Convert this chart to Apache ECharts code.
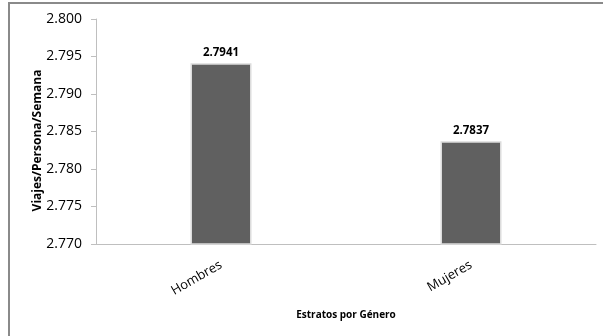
<!DOCTYPE html>
<html>
<head>
<meta charset="utf-8">
<script src="https://cdn.jsdelivr.net/npm/echarts@6/dist/echarts.min.js"></script>
<style>
  html, body { margin: 0; padding: 0; background: #fff; }
  #chart { width: 603px; height: 336px; }
</style>
</head>
<body>
<div id="chart"></div>
<script>
// Trips per person per week, by gender
const categories = ['Hombres', 'Mujeres'];
const viajes = [2.7941, 2.7837];
const yMin = 2.770;
const yMax = 2.800;
const yStep = 0.005;

const font = '"Open Sans", "Noto Sans", sans-serif';
const chart = echarts.init(document.getElementById('chart'), null, { renderer: 'canvas' });

chart.setOption({
  animation: false,
  backgroundColor: '#ffffff',
  grid: { left: 96, right: 7, top: 19, bottom: 92, containLabel: false },
  graphic: [{
    type: 'rect',
    shape: { x: 9, y: 3, width: 800, height: 600 },
    style: { fill: 'none', stroke: '#8a8a8a', lineWidth: 2 },
    silent: true
  }],
  xAxis: {
    type: 'category',
    data: categories,
    name: 'Estratos por Género',
    nameLocation: 'middle',
    nameGap: 66,
    nameMoveOverlap: false,
    nameTextStyle: { fontFamily: font, fontSize: 10, fontWeight: 'bold', color: '#000' },
    axisLine: { lineStyle: { color: '#bfbfbf', width: 1 } },
    axisTick: { show: false },
    axisLabel: { rotate: 30, margin: 20, fontFamily: font, fontSize: 13, color: '#000' }
  },
  yAxis: {
    type: 'value',
    min: yMin,
    max: yMax,
    interval: yStep,
    name: 'Viajes/Persona/Semana',
    nameLocation: 'middle',
    nameGap: 52,
    nameMoveOverlap: false,
    nameTextStyle: {
      fontFamily: font, fontSize: 12, fontWeight: 'bold', color: '#000',
      padding: [0, 18, 0, 0]
    },
    axisLine: { show: true, lineStyle: { color: '#bfbfbf', width: 1 } },
    axisTick: { show: true, length: 5, lineStyle: { color: '#bfbfbf' } },
    splitLine: { show: false },
    axisLabel: {
      margin: 14,
      fontFamily: font,
      fontSize: 14,
      color: '#000',
      formatter: v => v.toFixed(3)
    }
  },
  series: [{
    type: 'bar',
    data: viajes,
    barWidth: '24.4%',
    itemStyle: {
      color: '#606060',
      borderColor: '#dcdcdc',
      borderWidth: 1.5
    },
    label: {
      show: true,
      position: 'top',
      distance: 5,
      fontFamily: font,
      fontSize: 11.5,
      fontWeight: 'bold',
      color: '#000',
      formatter: p => p.value.toFixed(4)
    }
  }]
});
</script>
</body>
</html>
